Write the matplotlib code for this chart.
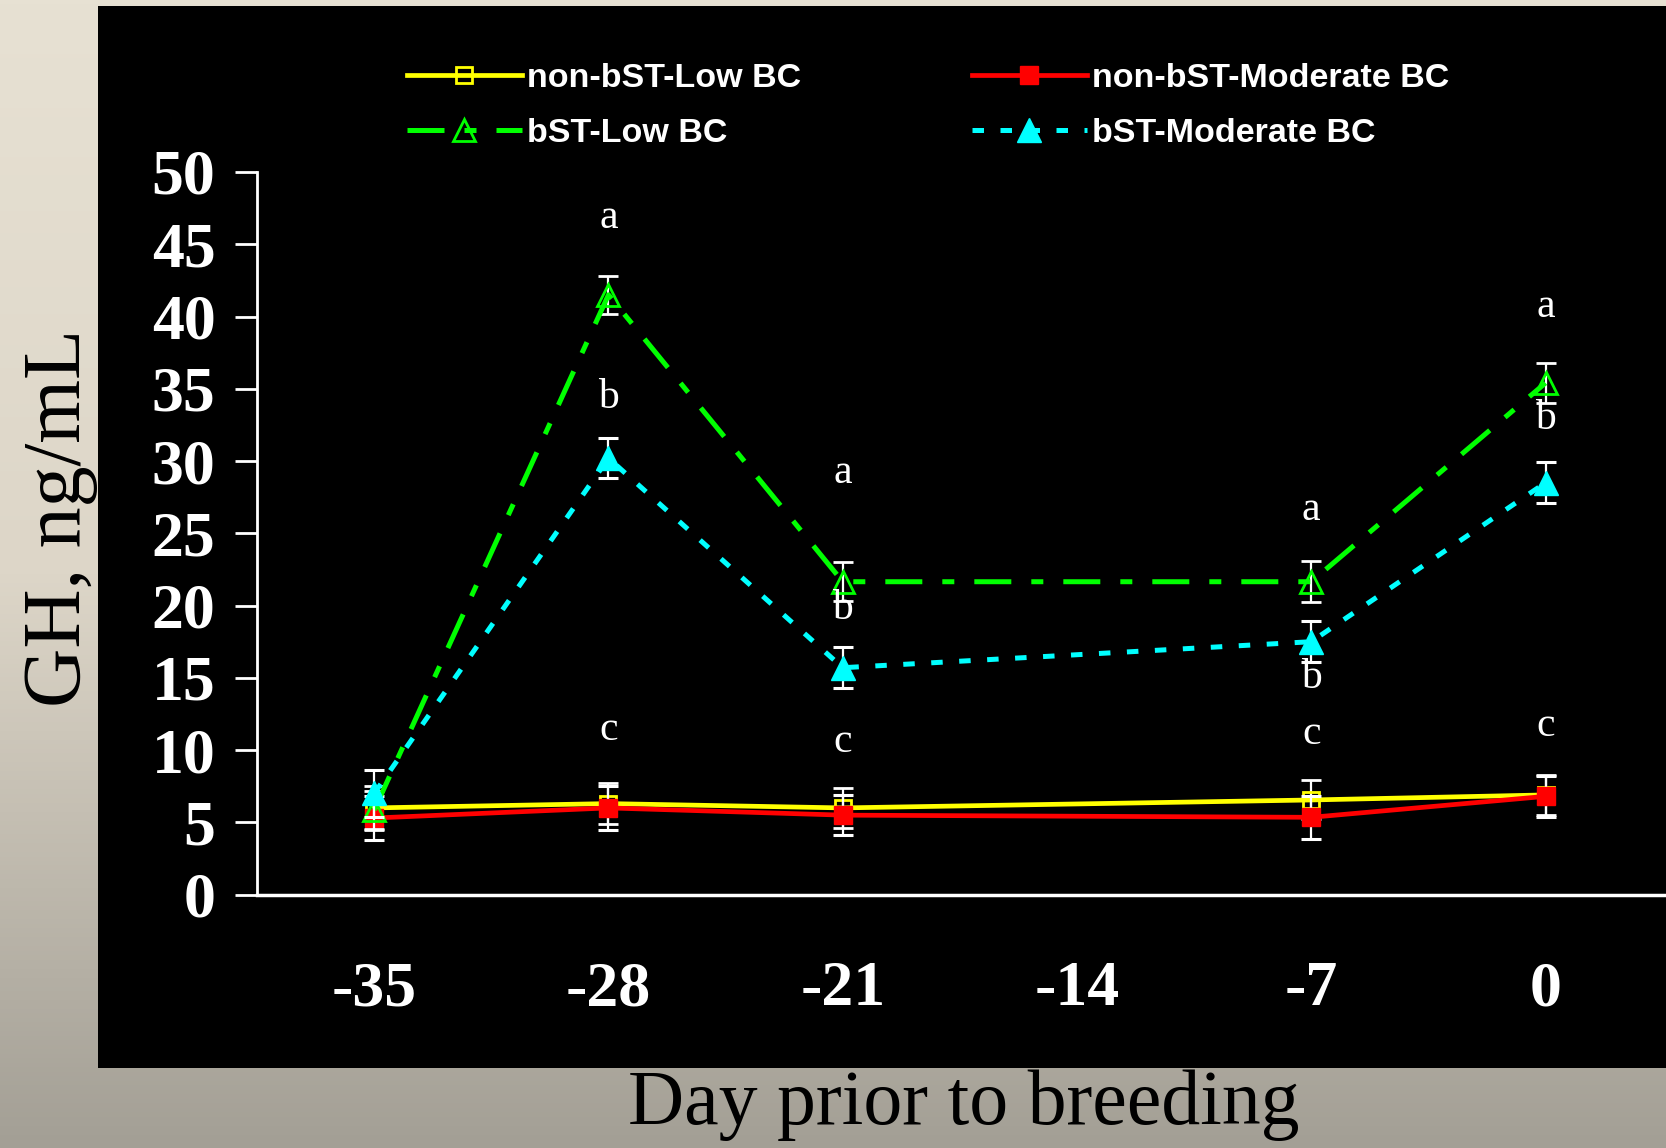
import numpy as np
import matplotlib.pyplot as plt
from matplotlib.patches import Rectangle
from matplotlib.colors import LinearSegmentedColormap

# GH concentration by day prior to breeding
days = [-35, -28, -21, -7, 0]
day_ticks = [-35, -28, -21, -14, -7, 0]

nonbst_low = [6.0, 6.3, 6.0, 6.55, 6.9]
nonbst_low_se = [1.5, 1.4, 1.4, 1.35, 1.4]
nonbst_mod = [5.3, 6.0, 5.5, 5.35, 6.8]
nonbst_mod_se = [1.5, 1.5, 1.4, 1.5, 1.4]
bst_low = [5.85, 41.5, 21.65, 21.65, 35.4]
bst_low_se = [1.3, 1.3, 1.35, 1.4, 1.35]
bst_mod = [7.0, 30.2, 15.7, 17.5, 28.5]
bst_mod_se = [1.6, 1.4, 1.4, 1.4, 1.4]

# significance letters
letter_days = [-28, -28, -28, -21, -21, -21, -7, -7, -7, 0, 0, 0]
letter_y = [46.8, 34.4, 11.4, 29.2, 19.8, 10.6, 26.6, 15.0, 11.1, 40.7, 32.9, 11.7]
letters = ['a', 'b', 'c', 'a', 'b', 'c', 'a', 'b', 'c', 'a', 'b', 'c']

fig = plt.figure(figsize=(16.66, 11.48), dpi=100)

# slide background gradient
bg = fig.add_axes([0, 0, 1, 1], zorder=-10)
grad = np.linspace(0, 1, 256).reshape(-1, 1)
cmap = LinearSegmentedColormap.from_list('slide', ['#e7e1d3', '#ddd6c8', '#a39f95'])
bg.imshow(grad, aspect='auto', cmap=cmap, extent=[0, 1, 0, 1], origin='upper')
bg.axis('off')
fig.patches.append(Rectangle((0.0588, 0.0697), 0.9412, 0.9251, transform=fig.transFigure,
                             facecolor='black', edgecolor='none', zorder=-5))

ax = fig.add_axes([0.1543, 0.2207, 0.8457, 0.6295])
ax.set_facecolor('none')

err_kw = dict(ecolor='white', elinewidth=1.6, capsize=7.5, capthick=2.2)

y1 = ax.errorbar(days, nonbst_low, yerr=nonbst_low_se, color='#ffff00', lw=3.4, marker='s', ms=12,
                 mfc='none', mec='#ffff00', mew=2, zorder=3, **err_kw)
r1 = ax.errorbar(days, nonbst_mod, yerr=nonbst_mod_se, color='#ff0000', lw=3.4, marker='s', ms=13,
                 mfc='#ff0000', mec='#ff0000', zorder=4, **err_kw)
g = ax.errorbar(days, bst_low, yerr=bst_low_se, color='#00ff00', lw=3.6, marker='^', ms=16,
                mfc='none', mec='#00ff00', mew=2, zorder=5, **err_kw)
g[0].set_dashes((7.4, 4, 2.4, 4))
c = ax.errorbar(days, bst_mod, yerr=bst_mod_se, color='#00ffff', lw=3.6, marker='^', ms=17,
                mfc='#00ffff', mec='#00ffff', zorder=6, **err_kw)
c[0].set_dashes((2.3, 3.3))

for d, yv, s in zip(letter_days, letter_y, letters):
    ax.text(d, yv, s, color='white', fontsize=30, family='Liberation Serif',
            ha='center', va='center', zorder=7)

ax.set_xlim(-38.5, 3.6)
ax.set_ylim(0, 50)
ax.set_xticks(day_ticks)
ax.set_xticklabels([str(t) for t in day_ticks])
ax.set_yticks(range(0, 51, 5))
for sp in ['top', 'right']:
    ax.spines[sp].set_visible(False)
for sp in ['left', 'bottom']:
    ax.spines[sp].set_color('white')
ax.spines['left'].set_linewidth(2)
ax.spines['bottom'].set_linewidth(2.5)
ax.tick_params(axis='y', colors='white', length=16, width=2, pad=14, labelsize=46)
ax.tick_params(axis='x', colors='white', length=0, pad=48, labelsize=46)
for lab in ax.get_xticklabels() + ax.get_yticklabels():
    lab.set_family('Liberation Serif')
    lab.set_fontweight('bold')

# legend uses the plain lines, no error bars
handles = [y1[0], g[0], r1[0], c[0]]
labels = ['non-bST-Low BC', 'bST-Low BC', 'non-bST-Moderate BC', 'bST-Moderate BC']
leg = ax.legend(handles, labels, ncol=2,
                loc='upper left', bbox_to_anchor=(0.244, 0.945), bbox_transform=fig.transFigure,
                frameon=False, handlelength=3.4, handletextpad=0.15, columnspacing=5.0,
                labelspacing=0.7, borderpad=0, borderaxespad=0,
                prop={'family': 'Liberation Sans', 'weight': 'bold', 'size': 24.5})
for t in leg.get_texts():
    t.set_color('white')

fig.text(0.036, 0.549, 'GH, ng/mL', rotation=90, ha='center', va='center',
         fontsize=59, family='Liberation Serif', color='black')
fig.text(0.5786, 0.0209, 'Day prior to breeding', ha='center', va='baseline',
         fontsize=56, family='Liberation Serif', color='black')

fig.savefig('out.png', dpi=100)
